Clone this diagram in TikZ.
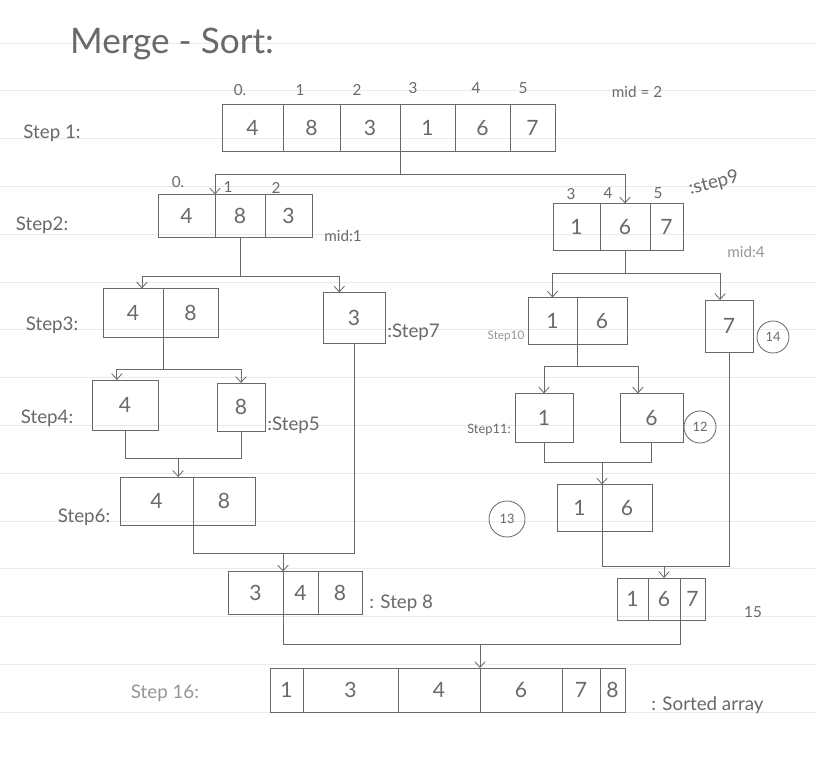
\documentclass[tikz,border=0pt]{standalone}
\usepackage{fontspec}
\setmainfont{Lato}
\usetikzlibrary{arrows.meta,positioning}
\definecolor{Pencil}{RGB}{105,105,105}
\definecolor{SoftPencil}{RGB}{150,150,150}
\definecolor{PaperLine}{RGB}{234,234,234}
\newdimen\pxu \pxu=0.03cm
\tikzset{
  cell/.style={draw=Pencil,line width=0.7pt,inner sep=0pt,outer sep=0pt,
    minimum height=46\pxu,text=Pencil,font=\fontsize{18}{20}\selectfont},
  steplabel/.style={text=Pencil,font=\fontsize{16}{18}\selectfont,inner sep=1pt},
  idx/.style={text=Pencil,font=\fontsize{13}{15}\selectfont,inner sep=1pt},
  circled/.style={circle,draw=Pencil,line width=0.7pt,text=Pencil,inner sep=1pt,
    minimum size=32\pxu,font=\fontsize{11}{13}\selectfont},
  link/.style={draw=Pencil,line width=0.7pt},
  arrow/.style={link,-{Straight Barb[length=5pt,width=9pt]}}
}

\begin{document}
\begin{tikzpicture}[x=0.03cm,y=-0.03cm]
  \fill[white] (0,0) rectangle (817,757);
  \useasboundingbox (0,0) rectangle (817,757);
  \foreach \ly in {0,...,14}
    \draw[PaperLine,line width=0.6pt] (0,43+47.8*\ly) -- (817,43+47.8*\ly);

  \node[steplabel,font=\fontsize{30}{32}\selectfont] (title) at (172,44) {Merge - Sort:};

  % step 1
  \node[cell,minimum height=47\pxu,minimum width=61\pxu,anchor=west] (s1a) at (222,128) {4};
  \node[cell,minimum height=47\pxu,minimum width=57\pxu,right=0pt of s1a] (s1b) {8};
  \node[cell,minimum height=47\pxu,minimum width=60\pxu,right=0pt of s1b] (s1c) {3};
  \node[cell,minimum height=47\pxu,minimum width=55\pxu,right=0pt of s1c] (s1d) {1};
  \node[cell,minimum height=47\pxu,minimum width=55\pxu,right=0pt of s1d] (s1e) {6};
  \node[cell,minimum height=47\pxu,minimum width=45\pxu,right=0pt of s1e] (s1f) {7};
  \node[steplabel] (l1) at (52,133) {Step 1:};
  \node[idx] (i10) at (240,90) {0.};
  \node[idx] (i11) at (300,90) {1};
  \node[idx] (i12) at (357,90) {2};
  \node[idx] (i13) at (413,88) {3};
  \node[idx] (i14) at (476,88) {4};
  \node[idx] (i15) at (523,88) {5};
  \node[idx] (mid1) at (637,92) {mid = 2};

  % step 2 and step 9
  \node[cell,minimum height=43\pxu,minimum width=57\pxu,anchor=west] (s2a) at (158,216) {4};
  \node[cell,minimum height=43\pxu,minimum width=50\pxu,right=0pt of s2a] (s2b) {8};
  \node[cell,minimum height=43\pxu,minimum width=47\pxu,right=0pt of s2b] (s2c) {3};
  \node[steplabel] (l2) at (42,225) {Step2:};
  \node[idx] (i20) at (178,182) {0.};
  \node[idx] (i21) at (228,187) {1};
  \node[idx] (i22) at (276,188) {2};
  \node[idx] (mid2) at (343,236) {mid:1};

  \node[cell,minimum height=47\pxu,minimum width=47\pxu,anchor=west] (s9a) at (553,227) {1};
  \node[cell,minimum height=47\pxu,minimum width=50\pxu,right=0pt of s9a] (s9b) {6};
  \node[cell,minimum height=47\pxu,minimum width=33\pxu,right=0pt of s9b] (s9c) {7};
  \node[idx] (i93) at (571,194) {3};
  \node[idx] (i94) at (608,193) {4};
  \node[idx] (i95) at (658,193) {5};
  \node[steplabel,rotate=15,anchor=west] (l9) at (688,190) {:step9};
  \node[idx,text=SoftPencil] (mid9) at (746,252) {mid:4};

  % step 3, step 7, step 10, step 14
  \node[cell,minimum height=49\pxu,minimum width=60\pxu,anchor=west] (s3a) at (103,313) {4};
  \node[cell,minimum height=49\pxu,minimum width=55\pxu,right=0pt of s3a] (s3b) {8};
  \node[steplabel] (l3) at (52,325) {Step3:};

  \node[cell,minimum height=51\pxu,minimum width=62\pxu,anchor=west] (s7) at (323,318) {3};
  \node[steplabel,anchor=west] (l7) at (386,332) {:Step7};

  \node[cell,minimum height=47\pxu,minimum width=49\pxu,anchor=west] (s10a) at (528,321) {1};
  \node[cell,minimum height=47\pxu,minimum width=50\pxu,right=0pt of s10a] (s10b) {6};
  \node[idx,text=SoftPencil,font=\fontsize{10}{12}\selectfont] (l10) at (506,336) {Step10};

  \node[cell,minimum height=52\pxu,minimum width=48\pxu,anchor=west] (s14) at (705,326) {7};
  \node[circled] (c14) at (773,337) {14};

  % step 4, 5, 11, 12
  \node[cell,minimum height=50\pxu,minimum width=66\pxu,anchor=west] (s4) at (92,405) {4};
  \node[steplabel] (l4) at (47,418) {Step4:};
  \node[cell,minimum height=48\pxu,minimum width=48\pxu,anchor=west] (s5) at (217,407) {8};
  \node[steplabel,anchor=west] (l5) at (266,425) {:Step5};

  \node[cell,minimum height=49\pxu,minimum width=58\pxu,anchor=west] (s11) at (515,418) {1};
  \node[idx,font=\fontsize{11}{13}\selectfont] (l11) at (489,430) {Step11:};
  \node[cell,minimum height=49\pxu,minimum width=63\pxu,anchor=west] (s12) at (620,418) {6};
  \node[circled] (c12) at (700,427) {12};

  % step 6 and 13
  \node[cell,minimum height=48\pxu,minimum width=73\pxu,anchor=west] (s6a) at (120,501) {4};
  \node[cell,minimum height=48\pxu,minimum width=62\pxu,right=0pt of s6a] (s6b) {8};
  \node[steplabel] (l6) at (84,517) {Step6:};

  \node[cell,minimum height=47\pxu,minimum width=45\pxu,anchor=west] (s13a) at (557,508) {1};
  \node[cell,minimum height=47\pxu,minimum width=50\pxu,right=0pt of s13a] (s13b) {6};
  \node[circled,minimum size=36\pxu] (c13) at (507,519) {13};

  % step 8 and 15
  \node[cell,minimum height=43\pxu,minimum width=55\pxu,anchor=west] (s8a) at (228,593) {3};
  \node[cell,minimum height=43\pxu,minimum width=35\pxu,right=0pt of s8a] (s8b) {4};
  \node[cell,minimum height=43\pxu,minimum width=44\pxu,right=0pt of s8b] (s8c) {8};
  \node[steplabel,anchor=west] (l8) at (368,603) {: Step 8};

  \node[cell,minimum height=42\pxu,minimum width=31\pxu,anchor=west] (s15a) at (617,599) {1};
  \node[cell,minimum height=42\pxu,minimum width=32\pxu,right=0pt of s15a] (s15b) {6};
  \node[cell,minimum height=42\pxu,minimum width=25\pxu,right=0pt of s15b] (s15c) {7};
  \node[idx] (l15) at (753,612) {15};

  % step 16
  \node[cell,minimum height=44\pxu,minimum width=33\pxu,anchor=west] (s16a) at (270,690) {1};
  \node[cell,minimum height=44\pxu,minimum width=95\pxu,right=0pt of s16a] (s16b) {3};
  \node[cell,minimum height=44\pxu,minimum width=82\pxu,right=0pt of s16b] (s16c) {4};
  \node[cell,minimum height=44\pxu,minimum width=82\pxu,right=0pt of s16c] (s16d) {6};
  \node[cell,minimum height=44\pxu,minimum width=38\pxu,right=0pt of s16d] (s16e) {7};
  \node[cell,minimum height=44\pxu,minimum width=25\pxu,right=0pt of s16e] (s16f) {8};
  \node[steplabel,text=SoftPencil] (l16) at (165,693) {Step 16:};
  \node[steplabel,anchor=west] (lsorted) at (650,705) {: Sorted array};

  % splitting
  \draw[link] (s1c.south east) -- ++(0,23) coordinate (j1);
  \draw[arrow] (j1) -| (s2a.north east);
  \draw[arrow] (j1) -| (s9b.north);

  \draw[link] (s2b.south) -- ++(0,39) coordinate (j2);
  \draw[arrow] (j2) -| (s3a.70);
  \draw[arrow] (j2) -| (s7.120);

  \draw[link] (s9b.south) -- ++(0,23) coordinate (j4);
  \draw[arrow] (j4) -| (s10a.north);
  \draw[arrow] (j4) -| (s14.109);

  \draw[link] (s3a.south east) -- ++(0,32) coordinate (j3);
  \draw[arrow] (j3) -| (s4.108);
  \draw[arrow] (j3) -| (s5.north);

  \draw[link] (s10a.south east) -- ++(0,22) coordinate (j5);
  \draw[arrow] (j5) -| (s11.north);
  \draw[arrow] (j5) -| (s12.119);

  % merging
  \draw[link] (s4.south) -- ++(0,28) coordinate (m1) -| (s5.south);
  \draw[arrow] (m1 -| s6a.48) -- (s6a.48);

  \draw[link] (s11.south) -- ++(0,20) coordinate (m3) -| (s12.south);
  \draw[arrow] (m3 -| s13a.north east) -- (s13a.north east);

  \draw[link] (s6a.south east) -- ++(0,28) coordinate (m2) -| (s7.south);
  \draw[arrow] (m2 -| s8a.north east) -- (s8a.north east);

  \draw[link] (s13a.south east) -- ++(0,35) coordinate (m4) -| (s14.south);
  \draw[arrow] (m4 -| s15b.north) -- (s15b.north);

  \draw[link] (s8a.south east) -- ++(0,30) coordinate (m5) -| (s15b.south east);
  \draw[arrow] (m5 -| s16c.north east) -- (s16c.north east);
\end{tikzpicture}
\end{document}
